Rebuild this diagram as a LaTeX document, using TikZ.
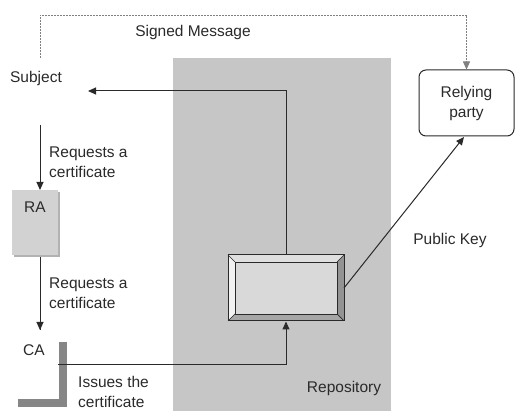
\documentclass[tikz,border=0pt]{standalone}
\usepackage{fontspec}
\setmainfont{Liberation Sans}
\usetikzlibrary{arrows.meta,calc}
\definecolor{ink}{HTML}{2A2A2A}
\definecolor{repogray}{HTML}{C6C6C6}
\definecolor{facegray}{HTML}{D9D9D9}
\tikzset{
  txt/.style={font=\fontsize{15.5}{20}\selectfont, text=ink, inner sep=0pt},
  conn/.style={draw=ink, line width=1pt},
  arr/.style={conn, -{Triangle[width=7pt,length=8pt]}},
  sig/.style={draw=gray, line width=0.8pt, dash pattern=on 2pt off 1pt, -{Triangle[width=7pt,length=8pt]}},
}
\begin{document}
\begin{tikzpicture}[x=1pt,y=-1pt]
\useasboundingbox (0,0) rectangle (515,411);
\fill[white] (0,0) rectangle (515,411);

% repository area
\fill[repogray] (173,58) rectangle (391,411);
\node[txt] (repolabel) at (344,388) {Repository};

% bevelled certificate store
\coordinate (o1) at (228,255); \coordinate (o2) at (344,255);
\coordinate (o3) at (344,321); \coordinate (o4) at (228,321);
\coordinate (i1) at (235,262); \coordinate (i2) at (337,262);
\coordinate (i3) at (337,314); \coordinate (i4) at (235,314);
\fill[gray!25] (o1) -- (o2) -- (i2) -- (i1) -- cycle;
\fill[gray!10] (o1) -- (i1) -- (i4) -- (o4) -- cycle;
\fill[gray!85] (o2) -- (o3) -- (i3) -- (i2) -- cycle;
\fill[gray!70] (o4) -- (i4) -- (i3) -- (o3) -- cycle;
\fill[facegray] (i1) rectangle (i3);
\draw[ink, line width=0.7pt] (i1) rectangle (i3);
\draw[ink, line width=0.7pt] (o1) -- (i1) (o2) -- (i2) (o3) -- (i3) (o4) -- (i4);
\node[draw=ink, line width=1pt, minimum width=116pt, minimum height=66pt, inner sep=0pt] (store) at (286,288) {};

% subject, RA, CA
\node[txt] (subj) at (36,78) {Subject};
\fill[gray!60] (14,192) rectangle (60,257);
\node[fill=gray!35, minimum width=46pt, minimum height=65pt, inner sep=0pt] (ra) at (35,222.5) {};
\node[txt] (ralabel) at (35,207) {RA};
\node[txt] (ca) at (34,350) {CA};
\draw[gray!95, line width=8pt] (63,342) -- (63,403) -- (18,403);

% relying party
\node[draw=ink, line width=1pt, rounded corners=7pt, minimum width=95pt, minimum height=66pt,
      txt, align=center] (rp) at (466.5,103) {Relying\\party};

% request chain
\coordinate (s1) at (40,125);
\draw[arr] (s1) -- (40,190);
\node[txt, anchor=west, align=left] (req1) at (49,162) {Requests a\\certificate};
\coordinate (c1) at (40,330);
\draw[conn] (40,257) -- (c1);
\draw[arr] (40,320) -- (c1);
\node[txt, anchor=west, align=left] (req2) at (49,293) {Requests a\\certificate};

% certificate issued into the repository
\coordinate (ci) at (58,365);
\draw[arr] (ci) -- (286,365) -- (store.south);
\node[txt, anchor=west, align=left] (issue) at (78,392) {Issues the\\certificate};

% repository back to the subject
\coordinate (sa) at (88,91);
\draw[arr] (store.north) -- (286,91) -- (sa);

% public key to the relying party
\draw[arr] (344,288) -- (464,137);
\node[txt] (pk) at (450,240) {Public Key};

% signed message
\coordinate (sm) at (40,58);
\draw[sig] (sm) -- (40,15) -- (466.5,15) -- (rp.north);
\node[txt] (smlabel) at (193,32) {Signed Message};
\end{tikzpicture}
\end{document}
